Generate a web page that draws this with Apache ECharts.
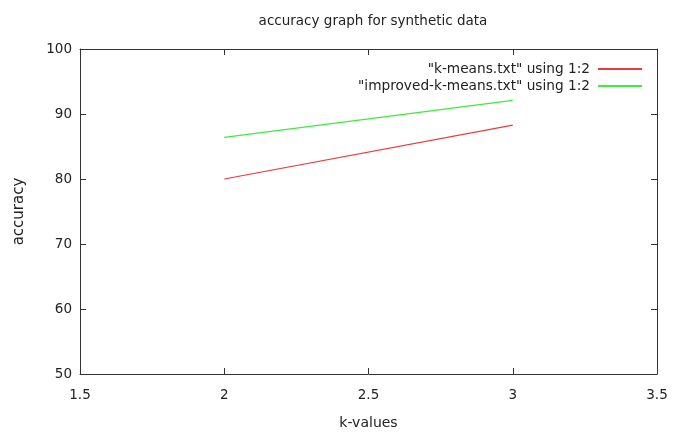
<!DOCTYPE html>
<html>
<head>
<meta charset="utf-8">
<script src="https://cdn.jsdelivr.net/npm/echarts@6/dist/echarts.min.js"></script>
<style>
  html, body { margin: 0; padding: 0; background: #fff; }
  #chart { width: 683px; height: 432px; }
</style>
</head>
<body>
<div id="chart"></div>
<script>
// data
const kValues = [2, 3];
const kMeans = [80.0, 88.3];
const improvedKMeans = [86.4, 92.1];
const seriesNames = ['"k-means.txt" using 1:2', '"improved-k-means.txt" using 1:2'];

const font = 'DejaVu Sans';
const ink = '#222';

let chart = echarts.init(document.getElementById('chart'));

const pairs = (xs, ys) => xs.map((x, i) => [x, ys[i]]);

const frame = { show: true, lineStyle: { color: '#333', width: 1 } };
const tick = { show: true, inside: true, length: 6, lineStyle: { color: '#333' } };

let option = {
    animation: false,
    backgroundColor: '#fff',
    title: {
        text: 'accuracy graph for synthetic data',
        left: 368, top: 9, textAlign: 'center',
        textStyle: { fontFamily: font, fontSize: 13.5, fontWeight: 'normal', color: ink }
    },
    grid: { left: 80, right: 26, top: 49, bottom: 58, outerBoundsMode: 'none' },
    legend: {
        orient: 'vertical',
        align: 'right',
        right: 36,
        top: 57,
        itemWidth: 44,
        itemHeight: 2,
        itemGap: 3,
        icon: 'rect',
        textStyle: { fontFamily: font, fontSize: 13.7, color: ink, padding: [0, 3, 0, 0] },
        data: seriesNames
    },
    xAxis: [
        {
            type: 'value', min: 1.5, max: 3.5, interval: 0.5,
            name: 'k-values', nameLocation: 'middle', nameGap: 42,
            nameTextStyle: { fontFamily: font, fontSize: 14, color: ink },
            axisLine: frame, axisTick: tick, splitLine: { show: false },
            axisLabel: { fontFamily: font, fontSize: 13.5, color: ink, margin: 14 }
        },
        {
            type: 'value', position: 'top', min: 1.5, max: 3.5, interval: 0.5,
            axisLine: frame, axisTick: tick, splitLine: { show: false },
            axisLabel: { show: false }
        }
    ],
    yAxis: [
        {
            type: 'value', min: 50, max: 100, interval: 10,
            name: 'accuracy', nameLocation: 'middle', nameGap: 53, nameRotate: 90,
            nameTextStyle: { fontFamily: font, fontSize: 15, color: ink },
            axisLine: frame, axisTick: tick, splitLine: { show: false },
            axisLabel: { fontFamily: font, fontSize: 13.5, color: ink, margin: 8 }
        },
        {
            type: 'value', position: 'right', min: 50, max: 100, interval: 10,
            axisLine: frame, axisTick: tick, splitLine: { show: false },
            axisLabel: { show: false }
        }
    ],
    series: [
        {
            name: seriesNames[0], type: 'line', symbol: 'none',
            data: pairs(kValues, kMeans),
            itemStyle: { color: '#ee3a3a' },
            lineStyle: { color: '#ee3a3a', width: 1.2 }
        },
        {
            name: seriesNames[1], type: 'line', symbol: 'none',
            data: pairs(kValues, improvedKMeans),
            itemStyle: { color: '#3aee3a' },
            lineStyle: { color: '#3aee3a', width: 1.2 }
        }
    ]
};

chart.setOption(option);
</script>
</body>
</html>
